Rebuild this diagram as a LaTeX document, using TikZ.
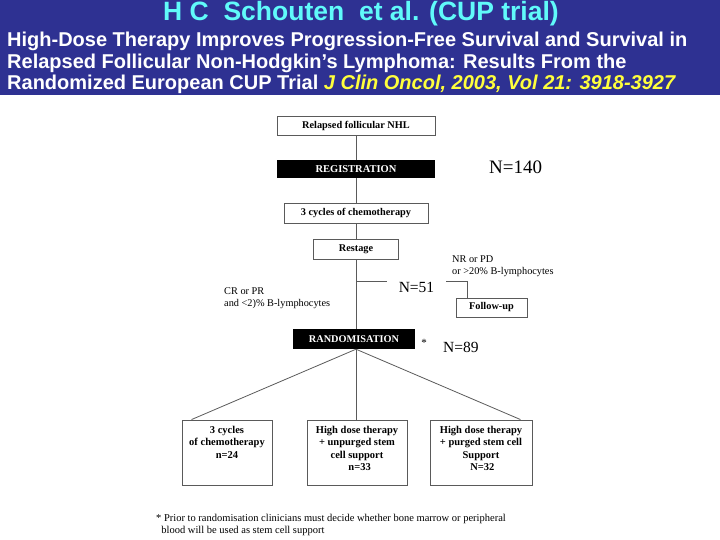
\documentclass[tikz,border=0pt]{standalone}
\usepackage{fontspec}
\setmainfont{Liberation Serif}
\newfontfamily\headfont{Liberation Sans}
\usetikzlibrary{positioning}
\definecolor{slideblue}{RGB}{46,49,146}
\definecolor{titlecyan}{RGB}{96,250,250}
\definecolor{refyellow}{RGB}{255,255,60}
\definecolor{linegray}{RGB}{90,90,90}

\begin{document}
\begin{tikzpicture}[x=1pt,y=-1pt]
        \tikzstyle{every node}=[inner sep=0pt, font=\fontsize{10.3}{12}\selectfont]
        \tikzstyle{box}=[draw=linegray, line width=0.9pt, fill=white, font=\fontsize{10.3}{12}\selectfont\bfseries]
        \tikzstyle{blackbox}=[fill=black, text=white, font=\fontsize{10.5}{12}\selectfont\bfseries]
        \tikzstyle{armtext}=[align=center, anchor=north, font=\fontsize{10.5}{12.6}\selectfont\bfseries]
        \tikzstyle{bignum}=[font=\fontsize{15.5}{16}\selectfont]
        \tikzstyle{link}=[draw=linegray, line width=0.8pt]
        \useasboundingbox (0,0) rectangle (720,540);
        % header
        \fill[slideblue] (0,0) rectangle (720,95);
        \node[text=titlecyan, font=\headfont\fontsize{26.5}{27}\selectfont\bfseries] (title) at (361,14) {H C\ \ Schouten\ \ et al. (CUP trial)};
        \node[anchor=north west, text=white, align=left, font=\headfont\fontsize{20}{21.5}\selectfont\bfseries] (ref) at (7,32) {High-Dose Therapy Improves Progression-Free Survival and Survival in\\Relapsed Follicular Non-Hodgkin’s Lymphoma: Results From the\\Randomized European CUP Trial \textcolor{refyellow}{\itshape J Clin Oncol, 2003, Vol 21: 3918-3927}};
        % flow chart
        \node[box, minimum width=158, minimum height=19] (nhl) at (356,126) {Relapsed follicular NHL};
        \node[blackbox, minimum width=158, minimum height=18] (reg) at (356,169) {REGISTRATION};
        \node[bignum, font=\fontsize{19}{19}\selectfont, anchor=west] (n140) at (489,167) {N=140};
        \node[box, minimum width=144, minimum height=20] (chemo) at (356,213) {3 cycles of chemotherapy};
        \node[box, minimum width=85, minimum height=20] (restage) at (356,249) {Restage};
        \coordinate (split) at (356,281);
        \node[bignum, inner xsep=12pt] (n51) at (416.5,287) {N=51};
        \node[box, minimum width=71, minimum height=19] (follow) at (491.5,307.5) {Follow-up};
        \node[anchor=west, align=left] (nrpd) at (452,266) {NR or PD\\or >20\% B-lymphocytes};
        \node[anchor=west, align=left] (crpr) at (224,298) {CR or PR\\and <2)\% B-lymphocytes};
        \node[blackbox, minimum width=122, minimum height=20, font=\fontsize{10.3}{12}\selectfont\bfseries] (rand) at (354,339) {RANDOMISATION};
        \node[font=\fontsize{11}{11}\selectfont] (star) at (424,343) {*};
        \node[bignum, anchor=west] (n89) at (443,347) {N=89};
        \node[box, minimum width=90, minimum height=65] (arm1) at (227,452.5) {};
        \node[box, minimum width=100, minimum height=65] (arm2) at (357,452.5) {};
        \node[box, minimum width=102, minimum height=65] (arm3) at (481,452.5) {};
        \node[armtext] (arm1txt) at ([yshift=-6pt]arm1.north) {3 cycles\\of chemotherapy\\n=24};
        \node[armtext] (arm2txt) at ([yshift=-6pt]arm2.north) {High dose therapy\\+ unpurged stem\\cell support\\\ \ n=33};
        \node[armtext] (arm3txt) at ([yshift=-6pt]arm3.north) {High dose therapy\\+ purged stem cell\\Support\\\ N=32};
        \node[anchor=north west, align=left, font=\fontsize{10.5}{12}\selectfont] (note) at (156,514) {* Prior to randomisation clinicians must decide whether bone marrow or peripheral\\\ \ blood will be used as stem cell support};
        % connectors
        \draw[link] (nhl) -- (reg);
        \draw[link] (reg) -- (chemo);
        \draw[link] (chemo) -- (restage);
        \draw[link] (restage.south) -- (restage.south |- rand.north);
        \draw[link] (split) -- (split -| n51.west);
        \draw[link] (split -| n51.east) -| ([xshift=-24.5pt]follow.north);
        \draw[link] (rand.south -| split) -- ([xshift=10pt]arm1.north west);
        \draw[link] (rand.south -| split) -- (arm2.north -| split);
        \draw[link] (rand.south -| split) -- ([xshift=-12pt]arm3.north east);
    \end{tikzpicture}
\end{document}
